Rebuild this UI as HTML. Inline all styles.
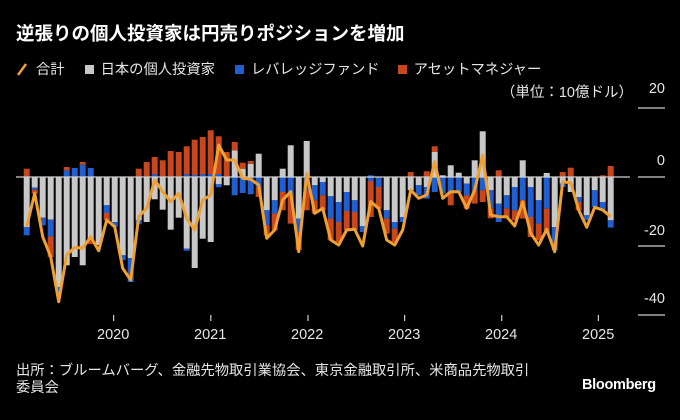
<!DOCTYPE html>
<html><head><meta charset="utf-8">
<style>
html,body{margin:0;padding:0;background:#000;}
body{width:680px;height:420px;overflow:hidden;position:relative;font-family:"Liberation Sans","Noto Sans CJK JP",sans-serif;color:#fff;}
.t{position:absolute;white-space:nowrap;}
</style></head><body>
<div class="t" style="left:16px;top:20px;font-size:18.5px;font-weight:bold;">逆張りの個人投資家は円売りポジションを増加</div>
<div class="t" style="left:16px;top:58px;font-size:14.3px;color:#e6e6e6;">
<svg width="12" height="14" style="vertical-align:-2px"><line x1="2" y1="13" x2="10" y2="2" stroke="#f0a030" stroke-width="2.5"/></svg><span style="margin-left:8px">合計</span>
<span style="display:inline-block;width:9px;height:9px;background:#c8c8c8;margin-left:16px;"></span><span style="margin-left:7px">日本の個人投資家</span>
<span style="display:inline-block;width:9px;height:9px;background:#1f5fd0;margin-left:16px;"></span><span style="margin-left:7px">レバレッジファンド</span>
<span style="display:inline-block;width:9px;height:9px;background:#c8461e;margin-left:14px;"></span><span style="margin-left:7px">アセットマネジャー</span>
</div>
<div class="t" style="right:47px;top:81px;font-size:14.5px;color:#e6e6e6;">（単位：10億ドル）</div>
<div class="t" style="right:15px;top:81px;font-size:14.5px;color:#e6e6e6;">20</div>
<div class="t" style="right:15px;top:153px;font-size:14.5px;color:#e6e6e6;">0</div>
<div class="t" style="right:15px;top:223px;font-size:14.5px;color:#e6e6e6;">-20</div>
<div class="t" style="right:15px;top:291px;font-size:14.5px;color:#e6e6e6;">-40</div>
<svg id="c" width="680" height="420" style="position:absolute;left:0;top:0;">
<g stroke="#cfcfcf" stroke-width="1.2">
<line x1="638" y1="108" x2="665" y2="108"/>
<line x1="638" y1="177" x2="665" y2="177"/>
<line x1="638" y1="246" x2="665" y2="246"/>
<line x1="638" y1="315" x2="665" y2="315"/>
<line x1="113.6" y1="315" x2="113.6" y2="321"/>
<line x1="210.8" y1="315" x2="210.8" y2="321"/>
<line x1="308" y1="315" x2="308" y2="321"/>
<line x1="404.6" y1="315" x2="404.6" y2="321"/>
<line x1="501.7" y1="315" x2="501.7" y2="321"/>
<line x1="598.4" y1="315" x2="598.4" y2="321"/>
</g>
<g id="bars"></g>
<line x1="16" y1="177" x2="630" y2="177" stroke="#cfcfcf" stroke-width="1.2"/>
<polyline id="ln" fill="none" stroke="#f0a030" stroke-width="3" stroke-linejoin="round"/>
</svg>
<div class="t" style="left:97px;top:327px;font-size:14.5px;color:#e6e6e6;">2020</div>
<div class="t" style="left:194px;top:327px;font-size:14.5px;color:#e6e6e6;">2021</div>
<div class="t" style="left:291px;top:327px;font-size:14.5px;color:#e6e6e6;">2022</div>
<div class="t" style="left:388px;top:327px;font-size:14.5px;color:#e6e6e6;">2023</div>
<div class="t" style="left:485px;top:327px;font-size:14.5px;color:#e6e6e6;">2024</div>
<div class="t" style="left:582px;top:327px;font-size:14.5px;color:#e6e6e6;">2025</div>
<div class="t" style="left:16px;top:363px;font-size:14.3px;line-height:17px;color:#e6e6e6;">出所：ブルームバーグ、金融先物取引業協会、東京金融取引所、米商品先物取引<br>委員会</div>
<div class="t" style="left:582px;top:377px;font-size:14.5px;font-weight:bold;letter-spacing:-0.3px;">Bloomberg</div>
<script>
var D=[
[0,0,8.3,50,8.3,0,226.7],[0,0,0,10.7,2,4,193.3],[0,0,0,40.7,7.7,0,236.7],[0,0,0,42.7,16.7,20.7,256.7],
[0,0,0,110,6.7,0,301.7],[6.7,0,3.3,88.3,0,0,255],[9,0,0,80,0,0,247.3],[12.3,0,2.7,88.3,0,0,248.3],
[9,0,0,63,0,4,236.7],[0,0,0,68,0,0,250.7],[0,0,0,28.3,7.7,7.3,220],[0,0,0,45,5,0,226.7],
[0,0,0,78.3,5,0,268.3],[0,0,0,81,24,0,280],[0,0,8.3,43.3,4,0,216.7],[0,0,15,45,0,0,208.3],
[2.7,0,17.3,22.3,0,0,180],[0,0,16.7,32.7,0,0,191.7],[0,0,26,52.7,0,0,201.7],[0,0,25,40.7,0,0,193.3],
[2.7,0,28,71.7,2,0,218.3],[2,0,35.3,91,0,0,230],[2.7,0,37.3,61.7,0,0,200],[3,0,43.7,65,0,0,195],
[3,0,37.7,7.3,3,0,145],[0,0,25,8.3,0,0,160],[0,26.7,8.3,0,18.3,0,160],[0,8.3,6,0,16,0,178.3],
[0,13.3,2.7,0,17.3,0,179.3],[0,23.3,0,0,10,10,185],[0,0,0,33.3,15,10,238.3],[0,0,0,23.3,13.3,16.7,230],
[0,8.3,0,0,15,18.3,200],[0,31.7,0,0,18.3,28.3,191.7],[0,0,0,41.7,13.3,18,251.7],[0,36,0,0,13.3,20,173.3],
[0,0,0,8.3,15,13.3,213.3],[0,0,0,5,13.3,15,208.3],[0,0,0,19.3,22.3,21.7,240],[0,0,0,25,20,20,245],
[0,0,0,15,19,19.3,230],[0,0,0,23.3,11.7,18.3,229.3],[0,0,0,49.3,5.7,0,246],[1.7,0,0,0,4,36,201.7],
[0,0,0,0,10,21.7,208.3],[0,0,0,33.3,8.3,15,240],[0,0,0,45,6.7,13.3,245],[0,0,0,40,5,0,230],
[0,0,5,13.3,0,0,190],[0,0,0,8.3,10,0,198.3],[0,0,5.7,10,11.7,0,195],[0,25,5.7,0,15,0,161.7],
[0,1.7,0,0,16.7,0,198.3],[0,11.7,0,0,15,13.3,191.7],[0,4.3,0,0,15,0,191.7],[0,0,0,6.7,11.7,13.3,208.3],
[0,16.7,0,0,13.3,13.3,190],[0,45.7,0,0,13.3,11.7,155],[0,0,0,13.3,18,10,215],[0,0,6.7,26.7,18.3,0,216.7],
[0,0,0,18.3,13.3,8.3,216.7],[0,0,0,10,23.3,10,226],[0,16.7,0,0,23.3,18.3,201.7],[0,0,0,10,30,20,233.3],
[0,0,0,23.3,23.3,16.7,245],[0,4,0,0,31.7,25,229.3],[0,0,0,50,23.3,0,251.7],[0,0,5,6.7,3.3,0,181.7],
[0,0,9.3,15,0,0,182.7],[0,0,0,20,5,8.3,210],[0,0,0,38.3,5,0,227.3],[0,0,0,13.3,16.7,0,207.3],
[0,0,1.7,25,8.3,0,210],[0,0,11,43.3,7.3,0,216.7]];
var C=["#1f5fd0","#c8c8c8","#c8461e"],Z=177,s="",pts=[];
D.forEach(function(d,i){
 var x=26.7+8.0*i,w=6,l=x-w/2,y=Z;
 for(var k=0;k<3;k++){if(d[k]>0){y-=d[k];s+='<rect x="'+l+'" y="'+y+'" width="'+w+'" height="'+d[k]+'" fill="'+C[k]+'"/>';}}
 y=Z;var nc=[C[1],C[0],C[2]];
 for(var k=0;k<3;k++){var h=d[3+k];if(h>0){s+='<rect x="'+l+'" y="'+y+'" width="'+w+'" height="'+h+'" fill="'+nc[k]+'"/>';y+=h;}}
 pts.push(x+","+d[6]);
});
document.getElementById("bars").innerHTML=s;
document.getElementById("ln").setAttribute("points",pts.join(" "));
</script>
</body></html>
